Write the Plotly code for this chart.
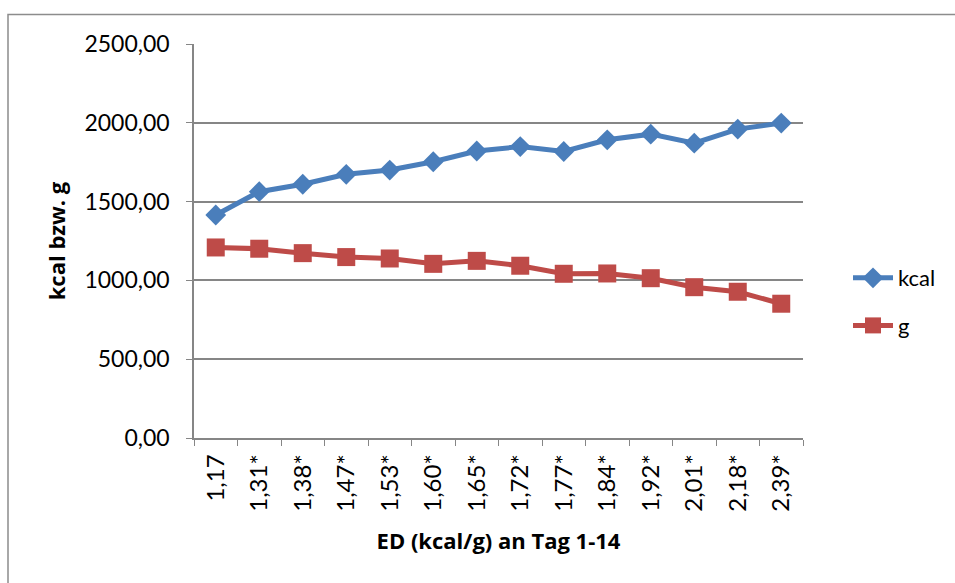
import plotly.graph_objects as go

# Energy density per day (kcal/g), days 1-14
categories = ["1,17", "1,31*", "1,38*", "1,47*", "1,53*", "1,60*", "1,65*",
              "1,72*", "1,77*", "1,84*", "1,92*", "2,01*", "2,18*", "2,39*"]
kcal = [1415, 1563, 1610, 1673, 1700, 1753, 1821,
        1849, 1818, 1892, 1928, 1871, 1960, 1998]
gram = [1209, 1201, 1173, 1148, 1139, 1105, 1124,
        1093, 1042, 1044, 1014, 957, 928, 852]

W, H = 955, 583
L, R, T, B = 194, 152, 44, 145
FONT = "Lato, 'Open Sans', sans-serif"
TITLE_FONT = "'Open Sans', Lato, sans-serif"
GRID = "#868686"

fig = go.Figure()
fig.add_trace(go.Scatter(
    x=categories, y=kcal, name="kcal", mode="lines+markers",
    line=dict(color="#4A7EBB", width=5),
    marker=dict(symbol="diamond", size=16, color="#4A7EBB"),
    legendgroup="a",
))
fig.add_trace(go.Scatter(
    x=categories, y=gram, name="g", mode="lines+markers",
    line=dict(color="#BE4B48", width=5),
    marker=dict(symbol="square", size=18, color="#BE4B48"),
    legendgroup="b",
))

pw = W - L - R
ph = H - T - B
# outer chart frame (top and left edges visible inside the page)
fig.add_shape(type="rect", xref="paper", yref="paper",
              x0=(8 - L) / pw, x1=(W + 20 - L) / pw,
              y0=-(H + 20 - (H - B)) / ph, y1=((H - B) - 14.5) / ph,
              line=dict(color="#8C8C8C", width=1.5), layer="below")

fig.update_layout(
    width=W, height=H,
    margin=dict(l=L, r=R, t=T, b=B, pad=0),
    paper_bgcolor="white", plot_bgcolor="white",
    font=dict(family=FONT, size=22, color="#000000"),
    showlegend=True,
    legend=dict(x=(848 - L) / pw, y=((H - B) - 257) / ph, xanchor="left", yanchor="top",
                font=dict(size=22), tracegroupgap=16, itemwidth=40,
                bgcolor="rgba(0,0,0,0)", traceorder="grouped"),
    xaxis=dict(
        type="category", tickangle=-90, tickson="boundaries",
        ticks="outside", ticklen=6, tickcolor=GRID,
        showline=True, linecolor=GRID, linewidth=1.5,
        showgrid=False, range=[-0.5, 13.5],
        tickfont=dict(size=24), ticklabelstandoff=5,
        title=dict(text="<b>ED (kcal/g) an Tag 1-14</b>",
                   font=dict(family=TITLE_FONT, size=22), standoff=23),
    ),
    yaxis=dict(
        range=[0, 2500], dtick=500, tickformat=".2f",
        ticks="outside", ticklen=6, tickcolor=GRID,
        showline=True, linecolor=GRID, linewidth=1.5,
        showgrid=True, gridcolor=GRID, gridwidth=1.5,
        zeroline=False, tickfont=dict(size=23), ticklabelstandoff=12,
        title=dict(text="<b>kcal bzw. g</b>",
                   font=dict(family=TITLE_FONT, size=22), standoff=13),
    ),
    separators=",.",
)

fig.write_html("out.html")
